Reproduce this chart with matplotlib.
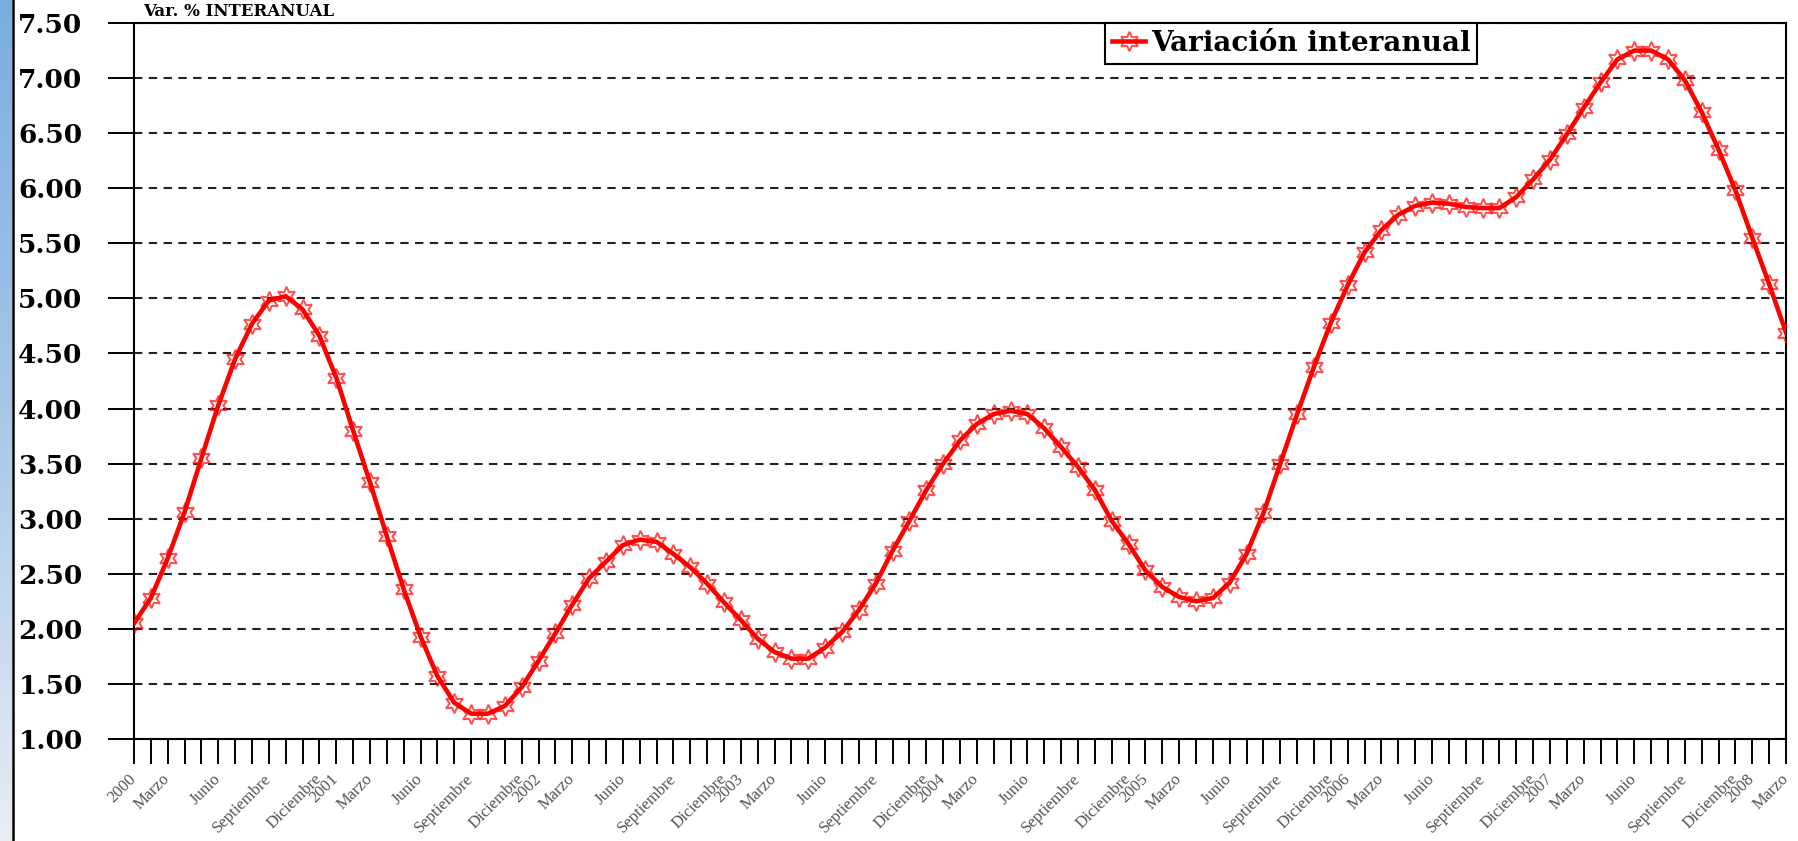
import matplotlib
matplotlib.use("Agg")
import matplotlib.pyplot as plt
import numpy as np
from matplotlib.lines import Line2D

# monthly year-on-year variation, Jan 2000 .. Mar 2008
VALUES = [
    2.05, 2.28, 2.64, 3.06, 3.55, 4.03, 4.45, 4.77, 4.98, 5.02, 4.90, 4.66,
    4.28, 3.80, 3.33, 2.84, 2.36, 1.93, 1.57, 1.33, 1.23, 1.23, 1.30, 1.47,
    1.71, 1.96, 2.22, 2.46, 2.61, 2.76, 2.81, 2.79, 2.68, 2.56, 2.41, 2.24,
    2.08, 1.91, 1.79, 1.73, 1.73, 1.83, 1.97, 2.17, 2.41, 2.71, 2.98, 3.26,
    3.50, 3.71, 3.86, 3.95, 3.98, 3.95, 3.82, 3.65, 3.47, 3.26, 2.98, 2.77,
    2.53, 2.38, 2.29, 2.25, 2.28, 2.42, 2.68, 3.05, 3.50, 3.95, 4.38, 4.78,
    5.12, 5.42, 5.62, 5.76, 5.84, 5.87, 5.86, 5.83, 5.82, 5.82, 5.92, 6.08,
    6.26, 6.49, 6.73, 6.96, 7.17, 7.25, 7.25, 7.17, 6.98, 6.69, 6.35, 5.98,
    5.55, 5.13, 4.69,
]
YEARS = [2000, 2001, 2002, 2003, 2004, 2005, 2006, 2007, 2008]
MONTH_NAMES = {2: "Marzo", 5: "Junio", 8: "Septiembre", 11: "Diciembre"}
Y_TICKS = [1.0, 1.5, 2.0, 2.5, 3.0, 3.5, 4.0, 4.5, 5.0, 5.5, 6.0, 6.5, 7.0, 7.5]
SERIES_LABEL = "Variación interanual"
TITLE = "Var. % INTERANUAL"

W, H = 1799, 841
fig = plt.figure(figsize=(W / 100, H / 100), dpi=100)

# blue strip on the left edge
strip = fig.add_axes([0, 0, 12 / W, 1])
grad = np.linspace(0, 1, 256).reshape(-1, 1)
strip.imshow(grad, aspect="auto", cmap=matplotlib.colors.LinearSegmentedColormap.from_list(
    "strip", ["#7aaee0", "#a9c8ea", "#e9eef4"]), extent=[0, 1, 0, 1])
strip.set_axis_off()
fig.add_artist(Line2D([13 / W, 13 / W], [0, 1], color="black", lw=1.8, transform=fig.transFigure))

# title squeezed into the thin band above the plot
fig.text(143 / W, 1 - 3 / H, TITLE, fontsize=12, fontweight="bold", family="DejaVu Serif",
         va="top", ha="left")

ax = fig.add_axes([134 / W, 1 - 739 / H, 1652 / W, 716 / H])

x = np.arange(len(VALUES))
star = (6, 1, 0)
ax.plot(x, VALUES, color="#ff0000", lw=3.3, marker=star, markersize=14,
        markerfacecolor="none", markeredgecolor=(1, 0, 0, 0.7), markeredgewidth=1.4,
        label=SERIES_LABEL, zorder=3)

ax.set_xlim(0, len(VALUES) - 1)
ax.set_ylim(Y_TICKS[0], Y_TICKS[-1])

labels = []
for i in range(len(VALUES)):
    m = i % 12
    if m == 0:
        labels.append(str(YEARS[i // 12]))
    else:
        labels.append(MONTH_NAMES.get(m, ""))
ax.set_xticks(x)
ax.set_xticklabels(labels, rotation=45, ha="right", va="center", rotation_mode="anchor",
                   fontsize=12, family="Liberation Serif", color="#555555")
ax.tick_params(axis="x", direction="out", length=18, width=1.4, pad=9, color="black")

ax.set_yticks(Y_TICKS)
ax.set_yticklabels([f"{v:.2f}" for v in Y_TICKS], fontsize=19, fontweight="bold",
                   family="DejaVu Serif")
ax.tick_params(axis="y", direction="out", length=19, width=1.4, pad=18, color="black")

ax.yaxis.grid(True, color="#222222", lw=1.5, linestyle=(0, (4, 3.1)))
ax.set_axisbelow(True)
for sp in ax.spines.values():
    sp.set_color("black")
    sp.set_linewidth(1.5)

leg = ax.legend(loc="upper left", bbox_to_anchor=((1105 - 134) / 1652, 1.0),
                prop={"family": "DejaVu Serif", "weight": "bold", "size": 20},
                frameon=True, fancybox=False, framealpha=1, edgecolor="black",
                borderpad=0.25, handlelength=1.2, handletextpad=0.2, borderaxespad=0)
leg.get_frame().set_linewidth(1.5)

fig.savefig("out.png", dpi=100)
